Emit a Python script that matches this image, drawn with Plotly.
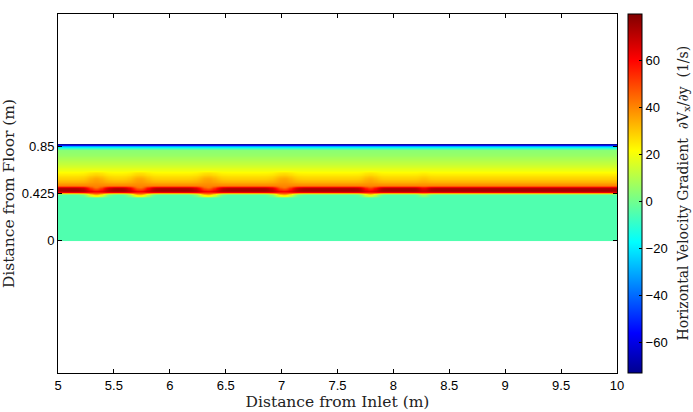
import numpy as np
import plotly.graph_objects as go

# ---- data ----
X_MIN, X_MAX = 5.0, 10.0
Y_TOP = 0.869  # top of the data field (m)

# vertical profile of dVx/dy (1/s) away from the bumps
PROFILE_Y = [0.0, 0.418, 0.428, 0.438, 0.45, 0.475, 0.485, 0.50, 0.52, 0.55,
             0.575, 0.60, 0.635, 0.68, 0.725, 0.77, 0.815, 0.835, 0.85, 0.86, 0.869]
PROFILE_BASE = [-5, -5, 30, 68, 75, 72, 55, 40, 35, 30,
                27, 24, 19, 14, 10, 6, 4, -10, -30, -50, -70]
# vertical profile at the centre of a bump
PROFILE_BUMP_Y = [0.0, 0.39, 0.40, 0.415, 0.43, 0.445, 0.46, 0.48, 0.52, 0.56,
                  0.585, 0.61, 0.635, 0.68, 0.725, 0.77, 0.815, 0.835, 0.85, 0.86, 0.869]
PROFILE_BUMP = [-5, -5, 20, 28, 50, 62, 52, 42, 38, 35,
                30, 26, 19, 14, 10, 6, 4, -10, -30, -50, -70]

BUMP_X = [5.34, 5.73, 6.34, 7.02, 7.79, 8.27]
BUMP_STRENGTH = [1.0, 1.0, 1.0, 1.0, 0.75, 0.3]
BUMP_WIDTH = [0.085, 0.085, 0.09, 0.09, 0.07, 0.05]

X_TICKS = [5, 5.5, 6, 6.5, 7, 7.5, 8, 8.5, 9, 9.5, 10]
Y_TICKS = [0, 0.425, 0.85]
CB_TICKS = [-60, -40, -20, 0, 20, 40, 60]
Z_MIN, Z_MAX = -73, 80

# ---- build grid ----
xs = np.linspace(X_MIN, X_MAX, 501)
ys = np.linspace(0.0, Y_TOP, 220)
base = np.interp(ys, PROFILE_Y, PROFILE_BASE)
bump = np.interp(ys, PROFILE_BUMP_Y, PROFILE_BUMP)
g = np.zeros_like(xs)
for xc, s, w in zip(BUMP_X, BUMP_STRENGTH, BUMP_WIDTH):
    g = np.maximum(g, s * np.exp(-((xs - xc) / w) ** 2))
Z = (1 - g)[None, :] * base[:, None] + g[None, :] * bump[:, None]

jet = [
    [0.0, "rgb(0,0,143)"],
    [0.111, "rgb(0,0,255)"],
    [0.365, "rgb(0,255,255)"],
    [0.619, "rgb(255,255,0)"],
    [0.873, "rgb(255,0,0)"],
    [1.0, "rgb(128,0,0)"],
]

fig = go.Figure(go.Heatmap(
    x=xs, y=ys, z=Z, zmin=Z_MIN, zmax=Z_MAX, colorscale=jet, zsmooth="best",
    colorbar=dict(
        x=1.0197, xanchor="left", xref="paper", xpad=0, ypad=0,
        thickness=14, thicknessmode="pixels",
        len=1.0, lenmode="fraction", y=0.5, yanchor="middle",
        outlinewidth=1, outlinecolor="black",
        ticks="inside", ticklen=3, tickcolor="black", tickvals=CB_TICKS,
        tickfont=dict(family="Liberation Sans", size=13, color="black"),
    ),
))

axis_common = dict(showgrid=False, zeroline=False, showline=True, linecolor="black",
                   linewidth=1, mirror="ticks", ticks="inside", ticklen=4,
                   tickcolor="black",
                   tickfont=dict(family="Liberation Sans", size=13, color="black"))

fig.update_xaxes(range=[X_MIN, X_MAX], tickvals=X_TICKS,
                 ticktext=[f"{v:g}" for v in X_TICKS],
                 title=dict(text="Distance from Inlet (m)", standoff=0,
                            font=dict(family="DejaVu Serif", size=15.5, color="#222")),
                 **axis_common)
fig.update_yaxes(range=[-1.189, 2.041], tickvals=Y_TICKS,
                 ticktext=["0", "0.425", "0.85"],
                 title=dict(text="Distance from Floor (m)", standoff=4,
                            font=dict(family="DejaVu Serif", size=15.5, color="#222")),
                 **axis_common)

fig.add_annotation(
    text="Horizontal Velocity Gradient  ∂V<sub>x</sub>/∂y  (1/s)",
    xref="paper", yref="paper", x=(683 - 58) / 559, y=0.5,
    xanchor="center", yanchor="middle", textangle=-90, showarrow=False,
    font=dict(family="DejaVu Serif", size=14, color="#222"),
)

fig.update_layout(width=693, height=412,
                  margin=dict(l=58, r=76, t=14, b=39, autoexpand=False),
                  plot_bgcolor="white", paper_bgcolor="white")

fig.write_html("out.html")
